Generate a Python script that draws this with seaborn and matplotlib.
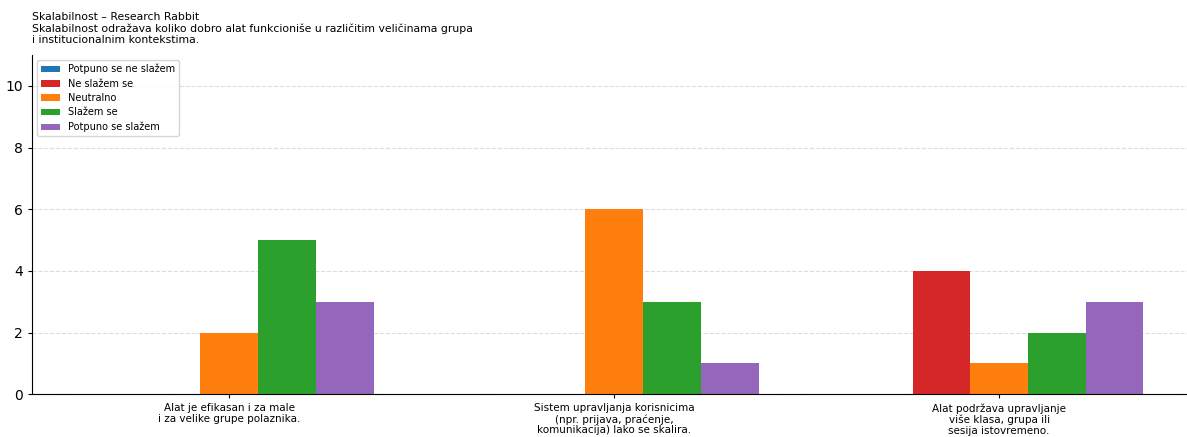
import matplotlib
matplotlib.use("Agg")
import matplotlib.pyplot as plt
import seaborn as sns
import pandas as pd

statements = ["Alat je efikasan i za male\ni za velike grupe polaznika.",
              "Sistem upravljanja korisnicima\n(npr. prijava, praćenje,\nkomunikacija) lako se skalira.",
              "Alat podržava upravljanje\nviše klasa, grupa ili\nsesija istovremeno."]
answers = ["Potpuno se ne slažem", "Ne slažem se", "Neutralno", "Slažem se", "Potpuno se slažem"]
colors = ["#1f77b4", "#d62728", "#ff7f0e", "#2ca02c", "#9467bd"]
counts_s1 = [0, 0, 2, 5, 3]
counts_s2 = [0, 0, 6, 3, 1]
counts_s3 = [0, 4, 1, 2, 3]

rows = []
for st, counts in zip(statements, [counts_s1, counts_s2, counts_s3]):
    for a, c in zip(answers, counts):
        rows.append({"Tvrdnja": st, "Odgovor": a, "Broj": c})
df = pd.DataFrame(rows)

plt.rcParams["font.family"] = ["DejaVu Sans"]
fig, ax = plt.subplots(figsize=(11.87, 4.37), dpi=100)
fig.subplots_adjust(left=0.027, right=1.0, bottom=0.098, top=0.874)
sns.barplot(data=df, x="Tvrdnja", y="Broj", hue="Odgovor", hue_order=answers,
            palette=colors, width=0.75, saturation=1, edgecolor="none", ax=ax)

ax.set_xlim(-0.512, 2.488)
ax.set_ylim(0, 11)
ax.set_yticks([0, 2, 4, 6, 8, 10])
ax.set_xlabel("")
ax.set_ylabel("")
ax.tick_params(axis="x", labelsize=7.5, length=3)
ax.tick_params(axis="y", labelsize=10, length=3)
for lbl in ax.get_xticklabels():
    lbl.set_linespacing(1.1)
ax.yaxis.grid(True, linestyle="--", color="#dddddd", linewidth=0.8)
ax.set_axisbelow(True)
sns.despine(ax=ax)

ax.set_title("Skalabilnost – Research Rabbit\n"
             "Skalabilnost odražava koliko dobro alat funkcioniše u različitim veličinama grupa\n"
             "i institucionalnim kontekstima.", loc="left", fontsize=7.8, pad=9, linespacing=1.12)
ax.legend(loc="upper left", fontsize=7, frameon=True, title=None, labelspacing=0.45)

fig.savefig("out.png", dpi=100)
